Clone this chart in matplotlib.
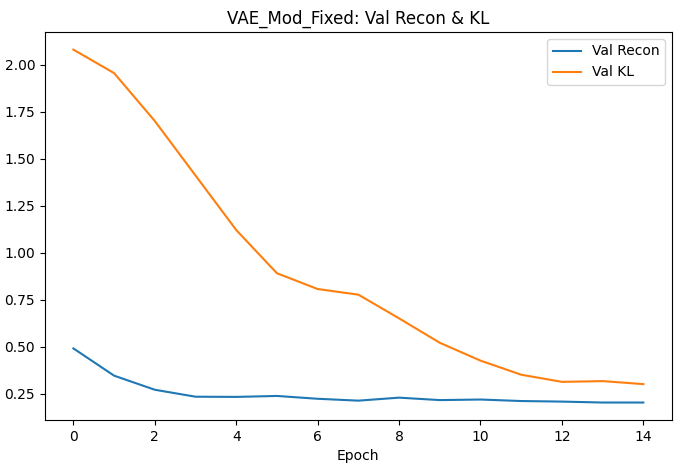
import matplotlib
matplotlib.use("Agg")
import matplotlib.pyplot as plt

epochs = list(range(15))
val_recon = [0.49, 0.345, 0.27, 0.233, 0.232, 0.237, 0.222, 0.212, 0.228,
             0.215, 0.218, 0.21, 0.207, 0.202, 0.202]
val_kl = [2.08, 1.955, 1.70, 1.41, 1.12, 0.89, 0.806, 0.776, 0.65,
          0.52, 0.425, 0.35, 0.312, 0.316, 0.30]

fig, ax = plt.subplots(figsize=(6.8, 4.7), dpi=100)
ax.plot(epochs, val_recon, label="Val Recon")
ax.plot(epochs, val_kl, label="Val KL")
ax.set_xlabel("Epoch")
ax.set_title("VAE_Mod_Fixed: Val Recon & KL")
ax.legend(loc="upper right")
fig.subplots_adjust(left=0.066, right=0.988, top=0.932, bottom=0.106)
plt.savefig("out.png", dpi=100)
